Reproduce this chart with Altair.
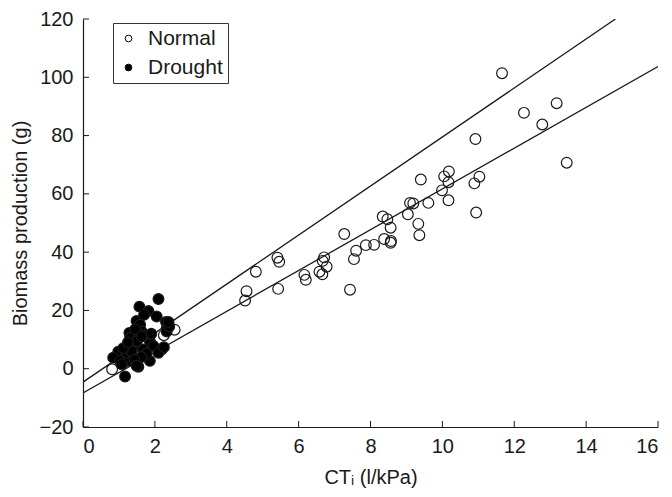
import altair as alt
import pandas as pd

# ---- data ----
normal_x = [5.41, 5.46, 4.81, 4.55, 4.51, 5.43, 6.16, 6.20, 6.71, 6.67, 6.78, 6.58, 6.66,
            7.43, 7.60, 7.54, 7.87, 8.10, 8.56, 7.27,
            10.92, 13.46, 9.40, 10.18, 10.05, 10.17, 11.03, 10.89, 9.99, 9.10, 9.19,
            9.61, 10.17, 10.94, 9.04, 8.34, 8.47, 8.56, 9.33, 9.36, 8.38, 8.57,
            11.66, 12.27, 13.18, 12.78,
            2.55, 2.25, 0.81]
normal_y = [38.1, 36.7, 33.3, 26.6, 23.4, 27.4, 32.2, 30.5, 38.2, 37.0, 35.0, 33.3, 32.4,
            27.1, 40.5, 37.6, 42.4, 42.5, 43.2, 46.2,
            78.8, 70.7, 64.9, 67.7, 66.0, 64.0, 65.9, 63.6, 61.2, 56.9, 56.7,
            56.9, 57.8, 53.6, 53.0, 52.2, 51.3, 48.4, 49.7, 45.8, 44.5, 43.8,
            101.4, 87.8, 91.1, 83.8,
            13.4, 11.5, -0.2]

drought_x = [2.10, 1.57, 1.82, 2.05, 2.31, 2.33, 2.33, 1.49, 1.59, 1.63, 1.29, 1.31, 1.55,
             1.86, 1.96, 2.19, 2.10, 1.86, 1.54, 1.17, 0.98, 0.84, 1.03, 1.26, 1.40, 1.68,
             1.21, 1.77, 1.45, 1.38, 1.62, 1.72, 1.35, 1.50, 1.12, 1.44, 2.40, 1.25, 1.70,
             1.90, 2.25, 1.08, 1.49, 1.63, 2.38]
drought_y = [23.9, 21.3, 19.8, 17.9, 16.0, 13.9, 12.8, 16.4, 15.1, 12.8, 12.3, 10.6, 10.6,
             9.4, 7.8, 6.6, 5.5, 2.7, 0.7, -2.7, 5.8, 3.8, 2.7, 2.7, 7.2, 6.6,
             5.5, 5.2, 13.5, 8.5, 4.0, 11.5, 6.0, 9.5, 7.0, 3.0, 14.5, 9.0, 18.5,
             12.0, 7.4, 1.5, 1.0, 11.1, 16.0]

line_names = ["upper", "lower"]
line_intercepts = [-4.6, -8.3]
line_slopes = [8.41, 7.0]

groups = ["Normal", "Drought"]
x_ticks = list(range(0, 17, 2))
y_ticks = list(range(-20, 121, 20))

X_MIN, X_MAX = 0, 16
Y_MIN, Y_MAX = -20, 120

# ---- tables ----
pts = pd.DataFrame(
    {"x": normal_x + drought_x,
     "y": normal_y + drought_y,
     "group": ["Normal"] * len(normal_x) + ["Drought"] * len(drought_x)}
)

rows = []
for name, b, m in zip(line_names, line_intercepts, line_slopes):
    x_end = min(X_MAX, (Y_MAX - b) / m)
    rows.append({"line": name, "x": 0.0, "y": b})
    rows.append({"line": name, "x": x_end, "y": b + m * x_end})
lines = pd.DataFrame(rows)

W, H = 575, 408
FONT = "Liberation Sans"
INK = "#1a1a1a"

xs = alt.Scale(domain=[X_MIN, X_MAX], nice=False, zero=False)
ys = alt.Scale(domain=[Y_MIN, Y_MAX], nice=False, zero=False)

x_axis = alt.Axis(values=x_ticks, tickSize=0, labelPadding=9, grid=False,
                  title="CTᵢ (l/kPa)", titlePadding=11)
y_axis = alt.Axis(values=y_ticks, tickSize=0, labelPadding=10, grid=False,
                  title="Biomass production (g)", titlePadding=9)

points = alt.Chart(pts).mark_point(
    shape="circle", filled=True, stroke=INK, strokeWidth=1.2, opacity=1
).encode(
    x=alt.X("x:Q", scale=xs, axis=x_axis),
    y=alt.Y("y:Q", scale=ys, axis=y_axis),
    size=alt.value(115),
    fill=alt.Fill(
        "group:N",
        scale=alt.Scale(domain=groups, range=["transparent", "black"]),
        legend=alt.Legend(
            title=None, orient="none", legendX=30, legendY=4,
            strokeColor="#333", padding=5, rowPadding=7,
            symbolType="circle", symbolSize=45, symbolStrokeColor="black",
            symbolStrokeWidth=1, symbolOffset=0, labelOffset=9,
            labelFont=FONT, labelFontSize=21, labelColor=INK,
            fillColor="white",
        ),
    ),
)

reg = alt.Chart(lines).mark_line(color=INK, strokeWidth=1.3, clip=True).encode(
    x=alt.X("x:Q", scale=xs),
    y=alt.Y("y:Q", scale=ys),
    detail="line:N",
)

xt = alt.Chart(pd.DataFrame({"t": x_ticks})).mark_rule(color=INK, strokeWidth=1).encode(
    x=alt.X("t:Q", scale=xs),
    y=alt.value(H),
    y2=alt.value(H - 6),
)
yt = alt.Chart(pd.DataFrame({"t": y_ticks})).mark_rule(color=INK, strokeWidth=1).encode(
    y=alt.Y("t:Q", scale=ys),
    x=alt.value(0),
    x2=alt.value(6),
)

chart = alt.layer(reg, xt, yt, points).properties(
    width=W, height=H,
    autosize=alt.AutoSizeParams(type="none"),
    padding={"left": 75, "top": 11, "right": 4, "bottom": 62},
).configure_view(stroke=None).configure_axis(
    domainColor=INK, domainWidth=1.2,
    labelFont=FONT, labelFontSize=20, labelColor=INK,
    titleFont=FONT, titleFontSize=20, titleColor=INK, titleFontWeight="normal",
)

chart.save("out.html", embed_options={"renderer": "svg", "actions": False})
